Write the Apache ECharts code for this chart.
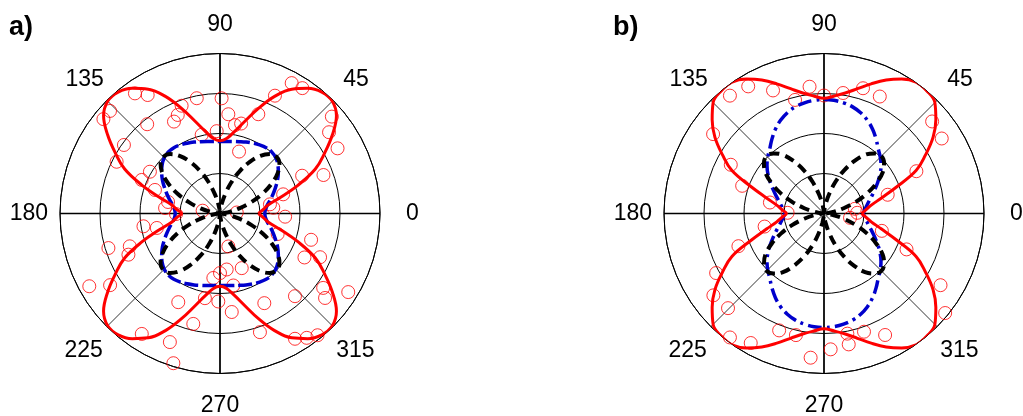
<!DOCTYPE html>
<html>
<head>
<meta charset="utf-8">
<script src="https://cdn.jsdelivr.net/npm/echarts@6/dist/echarts.min.js"></script>
<style>
html, body { margin: 0; padding: 0; background: #fff; }
#main { width: 1023px; height: 416px; }
</style>
</head>
<body>
<div id="main"></div>
<script>
// angle grid of the fitted curves (degrees)
var angles = [0, 5, 10, 15, 20, 25, 30, 35, 40, 45, 50, 55, 60, 65, 70, 75, 80, 85, 90,
  95, 100, 105, 110, 115, 120, 125, 130, 135, 140, 145, 150, 155, 160, 165, 170, 175, 180,
  185, 190, 195, 200, 205, 210, 215, 220, 225, 230, 235, 240, 245, 250, 255, 260, 265, 270,
  275, 280, 285, 290, 295, 300, 305, 310, 315, 320, 325, 330, 335, 340, 345, 350, 355, 360];

// panel a) curves (radius read off the plot)
var redA = [0.96, 1.08, 1.22, 1.57, 2.08, 2.63, 3.02, 3.43, 3.80, 3.97, 3.96, 3.82, 3.59, 3.23, 2.79, 2.38, 2.08, 1.88, 1.82,
  1.88, 2.08, 2.38, 2.79, 3.23, 3.59, 3.82, 3.96, 3.97, 3.80, 3.43, 3.02, 2.63, 2.08, 1.57, 1.22, 1.08, 0.96,
  1.08, 1.22, 1.57, 2.08, 2.63, 3.02, 3.43, 3.80, 3.97, 3.96, 3.82, 3.59, 3.23, 2.79, 2.38, 2.08, 1.88, 1.82,
  1.88, 2.08, 2.38, 2.79, 3.23, 3.59, 3.82, 3.96, 3.97, 3.80, 3.43, 3.02, 2.63, 2.08, 1.57, 1.22, 1.08, 0.96];
var blueA = [1.12, 1.14, 1.20, 1.30, 1.41, 1.53, 1.66, 1.78, 1.89, 1.97, 2.01, 2.01, 1.98, 1.94, 1.90, 1.86, 1.83, 1.81, 1.80,
  1.81, 1.83, 1.86, 1.90, 1.94, 1.98, 2.01, 2.01, 1.97, 1.89, 1.78, 1.66, 1.53, 1.41, 1.30, 1.20, 1.14, 1.12,
  1.14, 1.20, 1.30, 1.41, 1.53, 1.66, 1.78, 1.89, 1.97, 2.01, 2.01, 1.98, 1.94, 1.90, 1.86, 1.83, 1.81, 1.80,
  1.81, 1.83, 1.86, 1.90, 1.94, 1.98, 2.01, 2.01, 1.97, 1.89, 1.78, 1.66, 1.53, 1.41, 1.30, 1.20, 1.14, 1.12];
var blackA = [0.05, 0.08, 0.24, 0.50, 0.83, 1.17, 1.49, 1.76, 1.94, 2.00, 1.94, 1.76, 1.49, 1.17, 0.83, 0.50, 0.24, 0.08, 0.05,
  0.08, 0.24, 0.50, 0.83, 1.17, 1.49, 1.76, 1.94, 2.00, 1.94, 1.76, 1.49, 1.17, 0.83, 0.50, 0.24, 0.08, 0.05,
  0.08, 0.24, 0.50, 0.83, 1.17, 1.49, 1.76, 1.94, 2.00, 1.94, 1.76, 1.49, 1.17, 0.83, 0.50, 0.24, 0.08, 0.05,
  0.08, 0.24, 0.50, 0.83, 1.17, 1.49, 1.76, 1.94, 2.00, 1.94, 1.76, 1.49, 1.17, 0.83, 0.50, 0.24, 0.08, 0.05];

// panel b) curves
var redB = [0.94, 1.05, 1.20, 1.48, 1.92, 2.54, 2.93, 3.33, 3.65, 3.92, 4.00, 4.01, 3.88, 3.68, 3.45, 3.23, 3.06, 2.95, 2.88,
  2.95, 3.06, 3.23, 3.45, 3.68, 3.88, 4.01, 4.00, 3.92, 3.65, 3.33, 2.93, 2.54, 1.92, 1.48, 1.20, 1.05, 0.94,
  1.05, 1.20, 1.48, 1.92, 2.54, 2.93, 3.33, 3.65, 3.92, 4.00, 4.01, 3.88, 3.68, 3.45, 3.23, 3.06, 2.95, 2.88,
  2.95, 3.06, 3.23, 3.45, 3.68, 3.88, 4.01, 4.00, 3.92, 3.65, 3.33, 2.93, 2.54, 1.92, 1.48, 1.20, 1.05, 0.94];
var blueB = [0.98, 1.02, 1.08, 1.16, 1.27, 1.40, 1.55, 1.71, 1.86, 1.99, 2.11, 2.27, 2.43, 2.57, 2.68, 2.76, 2.81, 2.84, 2.85,
  2.84, 2.81, 2.76, 2.68, 2.57, 2.43, 2.27, 2.11, 1.99, 1.86, 1.71, 1.55, 1.40, 1.27, 1.16, 1.08, 1.02, 0.98,
  1.02, 1.08, 1.16, 1.27, 1.40, 1.55, 1.71, 1.86, 1.99, 2.11, 2.27, 2.43, 2.57, 2.68, 2.76, 2.81, 2.84, 2.85,
  2.84, 2.81, 2.76, 2.68, 2.57, 2.43, 2.27, 2.11, 1.99, 1.86, 1.71, 1.55, 1.40, 1.27, 1.16, 1.08, 1.02, 0.98];
var blackB = [0.05, 0.08, 0.25, 0.51, 0.85, 1.19, 1.51, 1.79, 1.96, 2.03, 1.96, 1.79, 1.51, 1.19, 0.85, 0.51, 0.25, 0.08, 0.05,
  0.08, 0.25, 0.51, 0.85, 1.19, 1.51, 1.79, 1.96, 2.03, 1.96, 1.79, 1.51, 1.19, 0.85, 0.51, 0.25, 0.08, 0.05,
  0.08, 0.25, 0.51, 0.85, 1.19, 1.51, 1.79, 1.96, 2.03, 1.96, 1.79, 1.51, 1.19, 0.85, 0.51, 0.25, 0.08, 0.05,
  0.08, 0.25, 0.51, 0.85, 1.19, 1.51, 1.79, 1.96, 2.03, 1.96, 1.79, 1.51, 1.19, 0.85, 0.51, 0.25, 0.08, 0.05];

// measured points (open circles): radius and angle
var ptsA_r = [3.72, 3.75, 3.25, 2.88, 2.49, 2.24, 2.31, 2.66, 2.06, 1.62, 3.70, 3.40, 3.36, 2.26, 2.76, 1.65, 1.27, 1.34, 1.63, 0.42,
  3.68, 3.47, 3.75, 3.76, 2.88, 2.95, 2.89, 2.04, 2.13, 1.73, 1.33, 1.38, 2.86, 2.68, 2.57, 2.94, 2.02, 0.44,
  1.10, 1.94, 1.62, 2.92, 2.40, 2.51, 3.74, 3.28, 2.45, 2.84, 3.59, 3.45, 3.92, 1.62, 2.15, 2.20,
  1.53, 0.85, 1.47, 1.41, 1.49, 1.83, 2.48, 2.50, 3.13, 2.79, 2.38, 2.73, 2.37, 3.18, 3.37, 3.76, 3.65, 3.79, 3.90];
var ptsA_t = [61.2, 56.7, 65.0, 89.2, 85.2, 80.4, 76.8, 68.9, 92.3, 72.9, 40.9, 36.7, 29.0, 24.7, 20.4, 16.9, 10.4, 6.2, 357.2, 3.4,
  125.3, 121.4, 141.0, 137.0, 129.2, 144.5, 153.4, 149.2, 156.8, 160.1, 167.5, 174.3, 109.6, 113.2, 116.6, 101.4, 103.1, 170.8,
  180.7, 189.5, 192.9, 197.2, 200.0, 204.2, 209.1, 213.1, 244.8, 256.4, 237.0, 248.7, 252.7, 264.1, 259.9, 268.9,
  340.4, 284.2, 291.7, 276.8, 270.0, 280.5, 276.8, 296.3, 288.6, 312.2, 332.5, 336.4, 343.9, 324.2, 321.2, 328.5, 300.9, 304.9, 308.7];
var ptsB_r = [2.95, 3.05, 3.28, 3.24, 4.02, 3.55, 3.49, 2.54, 1.66, 0.78, 0.83, 0.66,
  3.77, 3.70, 3.33, 2.93, 3.19, 3.41, 2.63, 2.16, 1.38, 0.91,
  1.52, 2.29, 3.08, 3.44, 3.37, 3.89, 3.72, 3.13, 3.12, 3.62,
  1.51, 2.25, 3.42, 3.92, 3.40, 3.06, 3.33, 3.12, 3.40];
var ptsB_t = [90, 81.0, 72.7, 64.5, 56.3, 40.4, 32.5, 24.6, 16.4, 8.6, 1.2, 350.6,
  128.6, 120.8, 112.5, 104.3, 96.5, 144.4, 152.4, 161.3, 168.5, 178.9,
  192.4, 200.9, 208.9, 216.5, 224.6, 232.8, 240.5, 249.0, 257.0, 264.7,
  343.3, 336.5, 328.4, 320.6, 272.8, 281.0, 280.7, 288.7, 296.7];

var myChart = echarts.init(document.getElementById('main'));

function curve(rs) {
    return rs.map(function (r, i) { return [r, angles[i]]; });
}
function points(rs, ts) {
    return rs.map(function (r, i) { return [r, ts[i]]; });
}

var labelFont = 'Liberation Sans';
// where each angle label sits round the circle
var labelKey = { 0: 'e', 45: 'ne', 90: 'n', 135: 'nw', 180: 'w', 225: 'sw', 270: 's', 315: 'se' };
function lab(pad) {
    return { padding: pad, fontSize: 23, fontFamily: labelFont, color: '#000' };
}
var labelRich = {
    e: lab([0, 0, 0, 26]),
    w: lab([0, 12, 0, 0]),
    n: lab([0, 0, 17, 0]),
    s: lab([21, 0, 0, 0]),
    ne: lab([0, 0, 9, 10]),
    nw: lab([0, 3, 9, 0]),
    sw: lab([13, 4, 0, 0]),
    se: lab([13, 0, 0, 3])
};

var centers = [[220, 213.5], [824, 213.5]];

function angleAxisMain(idx) {
    return {
        polarIndex: idx,
        type: 'value',
        min: 0,
        max: 360,
        interval: 45,
        startAngle: 0,
        clockwise: false,
        axisLine: { lineStyle: { color: '#000', width: 1 } },
        axisTick: { show: false },
        axisLabel: {
            margin: 0,
            fontSize: 23,
            fontFamily: labelFont,
            color: '#000',
            formatter: function (v) {
                return labelKey[v] ? '{' + labelKey[v] + '|' + v + '}' : '';
            },
            rich: labelRich
        },
        splitLine: { lineStyle: { color: '#000', width: 0.8 } }
    };
}
function angleAxisCross(idx) {
    return {
        polarIndex: idx,
        type: 'value',
        min: 0,
        max: 360,
        interval: 90,
        startAngle: 0,
        clockwise: false,
        axisLine: { show: false },
        axisTick: { show: false },
        axisLabel: { show: false },
        splitLine: { lineStyle: { color: '#000', width: 1.6 } }
    };
}
function radiusAxisMain(idx) {
    return {
        polarIndex: idx,
        min: 0,
        max: 4,
        interval: 1,
        axisLine: { show: false },
        axisTick: { show: false },
        axisLabel: { show: false },
        splitLine: { show: true, lineStyle: { color: '#000', width: 1 } }
    };
}
function radiusAxisHidden(idx) {
    return { polarIndex: idx, min: 0, max: 4, show: false };
}

function panelSeries(idx, pr, pt, red, blue, black, blueDash) {
    return [{
        type: 'scatter',
        coordinateSystem: 'polar',
        polarIndex: idx,
        symbol: 'circle',
        symbolSize: 13,
        itemStyle: { color: 'rgba(0,0,0,0)', borderColor: '#ff0000', borderWidth: 1 },
        data: points(pr, pt),
        z: 2
    }, {
        type: 'line',
        coordinateSystem: 'polar',
        polarIndex: idx,
        showSymbol: false,
        smooth: 0.4,
        lineStyle: { color: '#0000cc', width: 3.5, type: blueDash },
        data: curve(blue),
        z: 3
    }, {
        type: 'line',
        coordinateSystem: 'polar',
        polarIndex: idx,
        showSymbol: false,
        smooth: 0.4,
        lineStyle: { color: '#000', width: 4, type: [10, 6] },
        data: curve(black),
        z: 4
    }, {
        type: 'line',
        coordinateSystem: 'polar',
        polarIndex: idx,
        showSymbol: false,
        smooth: 0.4,
        lineStyle: { color: '#ff0000', width: 3 },
        data: curve(red),
        z: 5
    }];
}

option = {
    animation: false,
    backgroundColor: '#fff',
    title: [{
        text: 'a)', left: 9, top: 14, padding: 0,
        textStyle: { fontSize: 27, fontWeight: 'bold', fontFamily: labelFont, color: '#000' }
    }, {
        text: 'b)', left: 613, top: 14, padding: 0,
        textStyle: { fontSize: 27, fontWeight: 'bold', fontFamily: labelFont, color: '#000' }
    }],
    polar: [
        { center: centers[0], radius: 160 },
        { center: centers[1], radius: 160 },
        { center: centers[0], radius: 160 },
        { center: centers[1], radius: 160 }
    ],
    angleAxis: [angleAxisMain(0), angleAxisMain(1), angleAxisCross(2), angleAxisCross(3)],
    radiusAxis: [radiusAxisMain(0), radiusAxisMain(1), radiusAxisHidden(2), radiusAxisHidden(3)],
    series: [].concat(
        panelSeries(0, ptsA_r, ptsA_t, redA, blueA, blackA, [14, 4]),
        panelSeries(1, ptsB_r, ptsB_t, redB, blueB, blackB, [14, 5, 3, 5])
    )
};

myChart.setOption(option);
</script>
</body>
</html>
